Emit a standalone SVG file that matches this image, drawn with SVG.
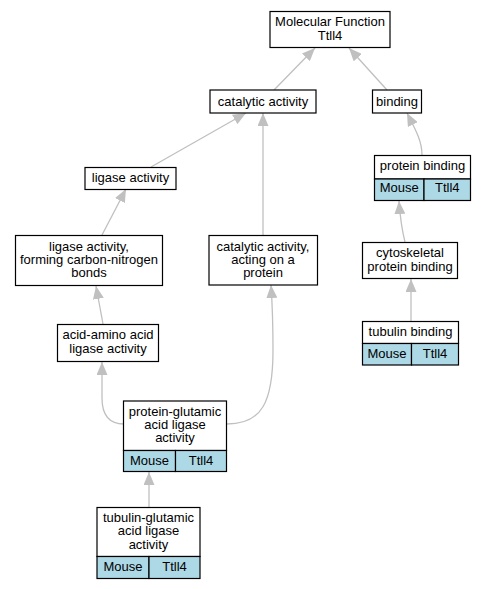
<svg xmlns="http://www.w3.org/2000/svg" width="487" height="589" viewBox="0 0 487 589">
<style>
.n{fill:#fff;stroke:#000;stroke-width:1.2}
.g{fill:#add8e6;stroke:#000;stroke-width:1.2}
text{font-family:"Liberation Sans",Arial,sans-serif;font-size:13px;fill:#000;text-anchor:middle}
.e{fill:none;stroke:#c0c0c0;stroke-width:1.3;marker-end:url(#ah)}
</style>
<defs>
<marker id="ah" markerUnits="userSpaceOnUse" markerWidth="14" markerHeight="11" refX="13" refY="5.5" orient="auto">
<path d="M0,0 L13,5.5 L0,11 z" fill="#c0c0c0"/>
</marker>
</defs>
<rect width="487" height="589" fill="#fff"/>
<g id="edges">
<path class="e" d="M274,90 L315,48"/>
<path class="e" d="M387,90 L349,48"/>
<path class="e" d="M151,167 L246,113"/>
<path class="e" d="M263,236 L263,113"/>
<path class="e" d="M422,155 C422,140 414,127 407,113"/>
<path class="e" d="M405,242 C402,230 400,216 399,201"/>
<path class="e" d="M411,322 L411,279"/>
<path class="e" d="M102,235 L126,189"/>
<path class="e" d="M103,324 L96,286"/>
<path class="e" d="M124,424 C110,424 102,416 102,398 L102,362"/>
<path class="e" d="M227,424 C262,424 273,402 273,350 C273,320 272,300 271,285"/>
<path class="e" d="M149,507 L149,472"/>
</g>
<g id="mf">
<rect class="n" x="270" y="11.5" width="120" height="36"/>
<text x="330" y="26">Molecular Function</text>
<text x="330" y="39.5">Ttll4</text>
</g>
<g id="catalytic">
<rect class="n" x="210" y="90" width="106" height="23"/>
<text x="263" y="105.5">catalytic activity</text>
</g>
<g id="binding">
<rect class="n" x="372.5" y="90" width="49" height="23"/>
<text x="397" y="105.5">binding</text>
</g>
<g id="proteinbinding">
<rect class="n" x="374.5" y="155.5" width="96" height="23.5"/>
<rect class="g" x="374.5" y="179" width="49.5" height="21.5"/>
<rect class="g" x="424" y="179" width="46.5" height="21.5"/>
<text x="422.5" y="169.5">protein binding</text>
<text x="399.3" y="192">Mouse</text>
<text x="447.3" y="192">Ttll4</text>
</g>
<g id="cytoskeletal">
<rect class="n" x="362.5" y="242.5" width="95" height="36"/>
<text x="410" y="257">cytoskeletal</text>
<text x="410" y="270.5">protein binding</text>
</g>
<g id="tubulinbinding">
<rect class="n" x="362.5" y="321.5" width="96" height="22"/>
<rect class="g" x="362.5" y="343.5" width="49" height="21.5"/>
<rect class="g" x="411.5" y="343.5" width="47" height="21.5"/>
<text x="410.5" y="335.5">tubulin binding</text>
<text x="387" y="357.5">Mouse</text>
<text x="435" y="357.5">Ttll4</text>
</g>
<g id="ligase">
<rect class="n" x="85" y="167.5" width="91" height="22"/>
<text x="130.5" y="181.5">ligase activity</text>
</g>
<g id="ligasecn">
<rect class="n" x="15.5" y="235.5" width="147" height="50"/>
<text x="89" y="251">ligase activity,</text>
<text x="89" y="264">forming carbon-nitrogen</text>
<text x="89" y="277">bonds</text>
</g>
<g id="catprotein">
<rect class="n" x="209" y="235.5" width="108.5" height="49.5"/>
<text x="263" y="250.5">catalytic activity,</text>
<text x="263" y="263.5">acting on a</text>
<text x="263" y="277">protein</text>
</g>
<g id="acidamino">
<rect class="n" x="57.5" y="324.5" width="101" height="37"/>
<text x="108" y="338.5">acid-amino acid</text>
<text x="108" y="352.5">ligase activity</text>
</g>
<g id="proteinglutamic">
<rect class="n" x="123.5" y="401" width="103" height="49.5"/>
<rect class="g" x="123.5" y="450.5" width="52" height="21"/>
<rect class="g" x="175.5" y="450.5" width="51" height="21"/>
<text x="175" y="415.5">protein-glutamic</text>
<text x="175" y="428.5">acid ligase</text>
<text x="175" y="442">activity</text>
<text x="149.5" y="464.5">Mouse</text>
<text x="201" y="464.5">Ttll4</text>
</g>
<g id="tubulinglutamic">
<rect class="n" x="97" y="507.5" width="103" height="49"/>
<rect class="g" x="97" y="556.5" width="52" height="22"/>
<rect class="g" x="149" y="556.5" width="51" height="22"/>
<text x="148.5" y="522">tubulin-glutamic</text>
<text x="148.5" y="535">acid ligase</text>
<text x="148.5" y="548.5">activity</text>
<text x="123" y="571">Mouse</text>
<text x="174.5" y="571">Ttll4</text>
</g>
</svg>
